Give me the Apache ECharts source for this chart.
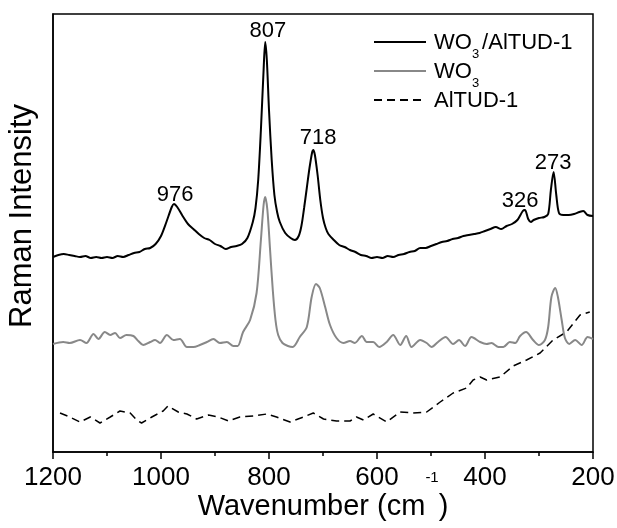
<!DOCTYPE html>
<html>
<head>
<meta charset="utf-8">
<script src="https://cdn.jsdelivr.net/npm/echarts@6/dist/echarts.min.js"></script>
<style>
  html, body { margin: 0; padding: 0; background: #fff; }
  #chart { width: 617px; height: 528px; }
</style>
</head>
<body>
<div id="chart"></div>
<script>
// 拉曼光谱数据（波数 cm-1 / 相对强度，三条曲线各自的采样点）
const blackWave = [1200,1190,1180,1170,1160,1150,1140,1130,1120,1110,1100,1090,1080,1070,1060,1050,1040,1030,1020,1010,1000,990,980,976,970,960,950,940,930,920,910,900,890,880,870,860,850,840,830,825,820,815,810,807,804,800,795,790,785,780,770,760,752,745,740,735,730,725,720,718,715,710,705,700,695,690,680,670,660,650,640,630,620,610,600,590,580,570,560,550,540,530,520,510,500,490,480,470,460,450,440,430,420,410,400,390,380,370,360,350,340,330,326,320,315,310,300,290,283,278,273,268,263,255,245,235,225,218,210,200]
const blackInt = [195,197,198,197,196,195,196,194,195,194,195,194,196,195,197,199,200,203,204,208,216,230,245,248,245,236,228,223,218,214,212,208,206,203,205,206,208,214,230,244,272,322,382,410,392,342,292,257,240,230,219,214,212,216,226,244,264,284,300,302,297,277,252,234,224,218,212,207,205,202,200,197,196,194,195,194,196,195,197,198,200,201,204,204,206,208,210,211,213,214,216,217,218,219,221,223,225,223,226,228,232,241,242,233,230,232,234,235,238,262,280,257,239,237,237,238,240,241,237,236]

const grayWave = [1200,1181,1169,1150,1138,1125,1116,1104,1094,1085,1076,1064,1051,1042,1033,1020,1011,1002,989,977,965,952,940,928,915,903,891,878,866,858,848,835,823,815,810,807,803,798,793,788,783,775,765,756,743,730,721,713,706,696,687,675,662,650,641,628,619,607,596,582,570,557,546,536,520,508,499,487,473,459,448,437,425,409,397,388,375,366,354,344,335,324,311,300,289,283,277,270,265,258,252,244,233,221,210,200]
const grayInt = [108,110,109,112,109,118,113,120,117,119,114,117,116,111,107,110,112,109,117,112,113,105,105,107,110,113,109,110,106,106,120,132,159,212,247,255,242,202,162,132,117,109,106,105,115,125,155,168,164,145,127,114,109,111,109,116,110,110,105,110,117,107,116,105,112,109,105,110,115,108,112,106,115,110,108,109,105,105,110,109,116,120,112,107,112,125,155,164,155,132,114,108,112,107,115,113]

const dashWave = [1187,1169,1150,1131,1113,1094,1076,1057,1045,1036,1017,996,987,968,952,934,912,894,875,854,829,804,786,761,736,718,699,675,650,638,625,607,582,557,533,508,483,459,434,422,409,397,372,348,323,298,274,249,224,206]
const dashInt = [39,35,30,35,29,35,41,39,32,29,35,41,46,40,38,33,37,35,31,35,36,38,35,30,35,39,33,31,31,35,32,38,30,40,39,40,50,59,64,72,75,72,75,86,92,99,112,120,137,140]

// 峰位标注（文字位置）
const peakText = ['976', '807', '718', '326', '273']
const peakTextWave = [974, 802, 709, 335, 274]
const peakTextInt = [257, 421, 314, 251, 289]

const seriesNames = ['WO3/AlTUD-1', 'WO3', 'AlTUD-1']
const xTicks = [200, 1200, 200] // min, max, interval

const FONT = 'Liberation Sans, Arial, sans-serif'

function pairs (xs, ys) {
  return xs.map((x, i) => [x, ys[i]])
}

const chart = echarts.init(document.getElementById('chart'))

const option = {
  animation: false,
  textStyle: { fontFamily: FONT, color: '#000' },
  grid: {
    left: 53,
    right: 24,
    top: 14,
    bottom: 76,
    outerBoundsMode: 'none',
    show: true,
    borderColor: '#000',
    borderWidth: 1.5
  },
  legend: {
    orient: 'vertical',
    left: 368,
    top: 27,
    itemWidth: 52,
    itemHeight: 14,
    itemGap: 0,
    data: seriesNames,
    itemStyle: { color: 'transparent', borderWidth: 0 },
    formatter: function (name) {
      if (name === 'WO3/AlTUD-1') return '{n|WO}{s|3}{n|/AlTUD-1}'
      if (name === 'WO3') return '{n|WO}{s|3}'
      return '{n|' + name + '}'
    },
    textStyle: {
      fontFamily: FONT,
      color: '#000',
      rich: {
        n: { fontSize: 22, lineHeight: 20, verticalAlign: 'top', fontFamily: FONT, color: '#000', padding: [0, 0, 0, 3] },
        s: { fontSize: 13, lineHeight: 12, verticalAlign: 'top', padding: [16, 0, 0, 0], fontFamily: FONT, color: '#000' }
      }
    }
  },
  xAxis: {
    type: 'value',
    inverse: true,
    min: xTicks[0],
    max: xTicks[1],
    interval: xTicks[2],
    name: '{n|Wavenumber (cm}{p|-1}{n|)}',
    nameLocation: 'middle',
    nameGap: 18,
    nameMoveOverlap: false,
    nameTextStyle: {
      rich: {
        n: { fontSize: 29, lineHeight: 28, verticalAlign: 'top', padding: [22, 0, 0, 0], fontFamily: FONT, color: '#000' },
        p: { fontSize: 15, lineHeight: 15, verticalAlign: 'top', fontFamily: FONT, color: '#000' }
      }
    },
    axisLine: { onZero: false, lineStyle: { color: '#000', width: 1.5 } },
    axisTick: { length: 7, lineStyle: { color: '#000', width: 1.5 } },
    minorTick: { show: true, splitNumber: 2, length: 4, lineStyle: { color: '#000', width: 1.5 } },
    axisLabel: { fontSize: 26, color: '#000', margin: 13, fontFamily: FONT, formatter: v => String(v) },
    splitLine: { show: false }
  },
  yAxis: {
    type: 'value',
    min: 0,
    max: 438,
    name: 'Raman Intensity',
    nameLocation: 'middle',
    nameGap: 15,
    nameMoveOverlap: false,
    nameTextStyle: { fontSize: 31, color: '#000', fontFamily: FONT, padding: [0, 0, 0, 34] },
    axisLine: { show: true, lineStyle: { color: '#000', width: 1.5 } },
    axisTick: { show: false },
    axisLabel: { show: false },
    splitLine: { show: false }
  },
  series: [
    {
      name: seriesNames[0],
      type: 'line',
      symbol: 'none',
      smooth: 0.3,
      data: pairs(blackWave, blackInt),
      lineStyle: { color: '#000', width: 2 },
      itemStyle: { color: '#000' },
      z: 3,
      markPoint: {
        symbol: 'circle',
        symbolSize: 0,
        label: { show: true, position: 'inside', fontSize: 22, color: '#000', fontFamily: FONT, formatter: '{b}' },
        data: peakText.map((t, i) => ({ name: t, coord: [peakTextWave[i], peakTextInt[i]] }))
      }
    },
    {
      name: seriesNames[1],
      type: 'line',
      symbol: 'none',
      smooth: 0.3,
      data: pairs(grayWave, grayInt),
      lineStyle: { color: '#888', width: 2 },
      itemStyle: { color: '#888' },
      z: 2
    },
    {
      name: seriesNames[2],
      type: 'line',
      symbol: 'none',
      data: pairs(dashWave, dashInt),
      lineStyle: { color: '#000', width: 1.5, type: [8, 5] },
      itemStyle: { color: '#000' },
      z: 1
    }
  ]
}

chart.setOption(option)
</script>
</body>
</html>
